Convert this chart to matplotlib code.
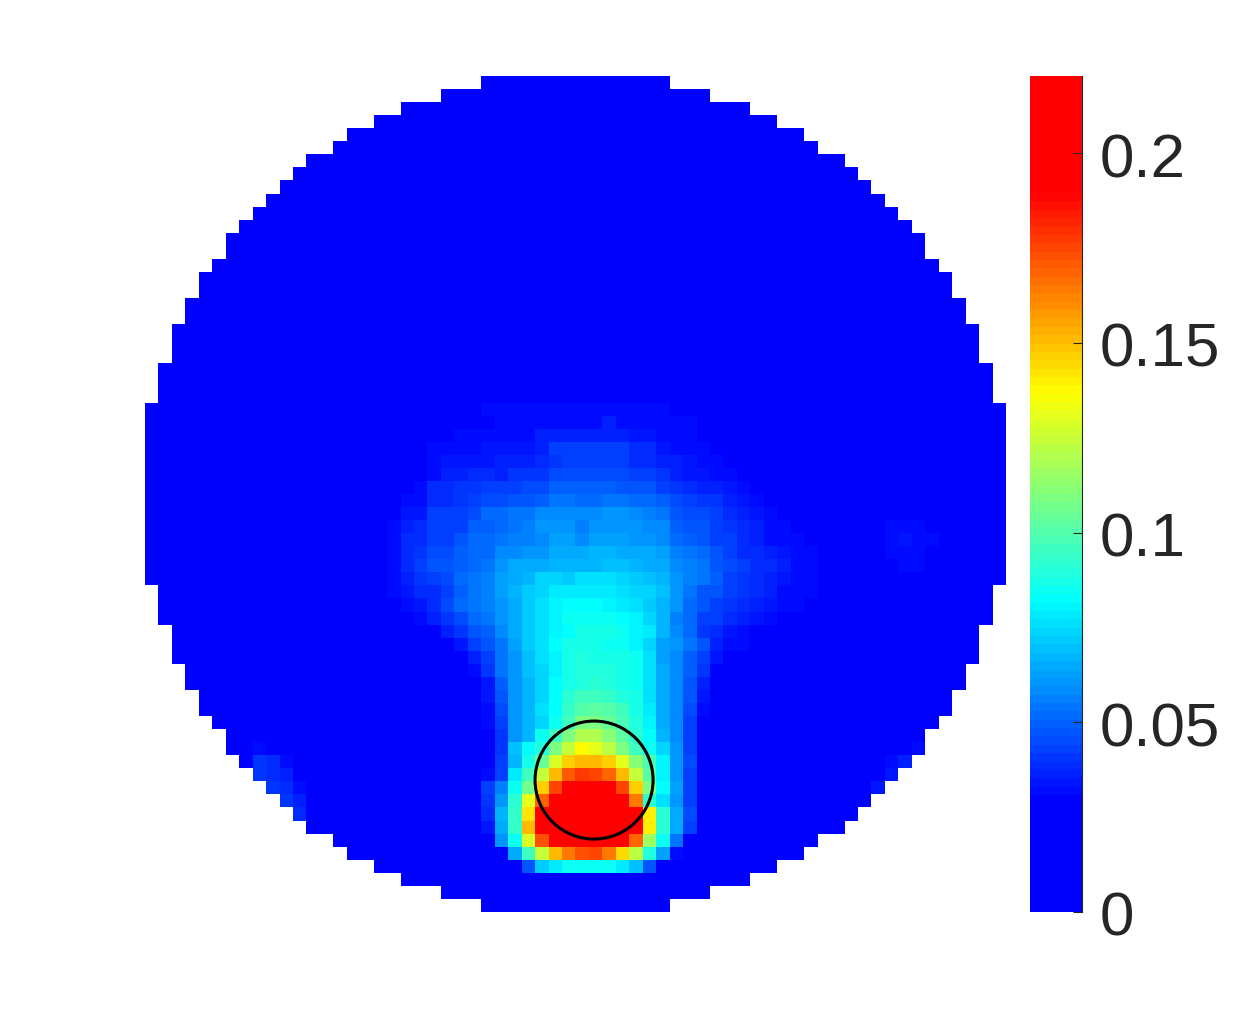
import numpy as np
import matplotlib
matplotlib.use("Agg")
import matplotlib.pyplot as plt
from matplotlib.colors import LinearSegmentedColormap
from matplotlib.patches import Ellipse
from matplotlib.transforms import ScaledTranslation

plt.rcParams['font.family'] = ['Liberation Sans', 'DejaVu Sans']

# first column inside the disc, for the top rows (bottom rows are the mirror)
disc_start = [25, 22, 19, 17, 15, 14, 12, 11, 10, 9, 8, 7, 6, 6, 5, 4, 4, 3, 3, 2, 2, 2, 1, 1, 1]

# values, in 1/1000: (row, first column, values)
plume = [
    (25, 25, [31,31,31,31,33,33,33,33,33,33,33,33,31,31,30]),
    (26, 23, [30,30,30,31,31,33,33,33,33,33,33,36,33,33,33,33,31,31,30]),
    (27, 21, [30,30,31,31,31,32,32,33,37,37,37,37,37,37,37,34,34,32,32,32,30,29]),
    (28, 21, [31,31,32,32,34,34,35,35,37,42,42,42,42,42,42,39,39,35,33,32,31,30,29]),
    (29, 20, [29,31,35,35,35,34,36,37,37,39,40,44,44,44,44,42,38,38,36,36,34,33,31,30,28]),
    (30, 20, [30,33,36,36,38,38,37,41,41,40,46,46,46,46,46,46,43,43,40,37,35,34,33,31,29]),
    (31, 19, [29,32,38,38,40,40,42,42,44,45,45,49,49,49,49,49,48,48,48,44,41,39,37,36,34,33,30]),
    (32, 18, [29,32,33,39,39,41,42,45,45,48,48,50,53,53,51,51,54,54,52,52,49,45,43,41,40,37,35,32,30]),
    (33, 18, [30,34,35,42,42,44,45,52,52,54,55,58,58,59,59,59,61,61,58,56,53,47,46,45,42,39,37,34,32,30]),
    (33, 56, [30,30]),
    (34, 18, [31,37,38,44,44,44,50,50,52,54,56,61,61,61,57,61,61,61,61,59,58,50,48,47,43,41,38,37,33,32,30]),
    (34, 54, [29,31,33,33,30]),
    (35, 17, [29,33,38,39,42,44,48,51,51,53,57,57,58,62,62,58,63,63,62,60,60,58,52,50,47,44,42,38,37,33,32,31,30,30]),
    (35, 53, [29,30,31,34,33,31]),
    (36, 17, [29,33,38,40,46,46,50,51,52,59,59,60,60,64,64,64,67,67,66,64,64,63,56,53,51,48,44,39,38,37,35,32,31,29,29,29,30,30,31,33,32,30]),
    (37, 17, [29,33,39,42,48,48,50,52,55,60,66,66,64,68,68,68,68,69,69,67,65,65,58,56,53,48,46,42,39,38,36,33,31,30,30,30,30,30,30,32,31]),
    (38, 18, [33,37,40,43,46,51,54,56,62,66,68,73,73,72,75,75,75,74,72,69,68,60,56,53,50,43,41,38,37,34,33,31,29,29,29,29,29,29]),
    (39, 18, [31,34,38,39,44,50,54,56,62,67,71,73,78,78,78,78,78,76,73,73,70,60,54,48,47,42,41,38,36,33,33,31,30]),
    (40, 19, [33,35,39,46,52,55,57,60,65,71,75,80,82,82,82,81,79,77,72,68,60,52,47,42,40,38,36,34,33,32]),
    (41, 20, [32,36,40,46,52,55,60,65,72,76,81,84,84,84,84,82,80,74,68,56,52,43,42,39,37,34,32,30]),
    (42, 21, [30,36,41,47,50,58,65,72,76,81,83,86,86,86,85,81,78,68,58,52,40,38,34,33,30]),
    (43, 23, [35,42,48,55,63,71,76,82,86,86,86,85,84,80,74,63,61,53,48,36,32,31]),
    (44, 24, [37,42,53,61,69,75,80,87,90,88,88,86,84,76,63,58,50,42,34,29]),
    (45, 24, [32,40,53,61,69,74,80,86,89,90,90,88,84,76,65,58,50,40,30]),
    (46, 25, [34,50,61,67,74,82,87,90,92,90,88,84,76,65,58,48,37]),
    (47, 25, [34,48,61,67,74,83,92,96,96,94,90,86,76,66,58,48,34]),
    (48, 25, [32,45,61,67,77,82,93,101,102,100,95,88,78,65,58,45,32]),
    (49, 25, [31,42,61,67,74,85,96,108,110,105,97,90,80,65,58,44,30]),
    (50, 25, [30,40,61,67,84,95,110,120,120,112,103,92,82,68,58,44,29]),
    (51, 25, [30,40,69,82,90,108,125,138,132,122,108,96,84,74,60,44,29]),
    (52, 25, [30,42,68,86,105,128,146,150,150,146,132,112,98,80,61,45,30]),
    (53, 25, [32,44,78,95,125,150,170,178,175,168,150,125,100,80,61,44,30]),
    (54, 25, [44,56,84,106,146,175,200,200,200,200,175,146,108,82,62,42,30]),
    (55, 25, [40,60,92,130,168,200,200,200,200,200,200,165,92,76,60,44,30]),
    (56, 25, [38,68,94,142,200,200,200,200,200,200,200,200,140,92,66,46,30]),
    (57, 25, [34,66,94,150,200,200,200,200,200,200,200,200,140,92,66,44,30]),
    (58, 25, [29,60,84,128,172,200,200,200,200,200,200,168,116,84,54,30]),
    (59, 26, [30,66,95,125,150,165,172,176,165,145,122,90,62,32]),
    (60, 28, [48,72,78,84,85,85,84,78,70,48,28]),
    # faint patches at the lower left and lower right rim
    (51, 7, [29,33,30]),
    (52, 7, [30,40,38,32]),
    (53, 8, [40,39,36]),
    (54, 9, [40,38,33]),
    (55, 10, [40,36]),
    (56, 11, [38]),
    (57, 12, [30]),
    (51, 56, [29,31]),
    (52, 55, [31,36]),
    (53, 54, [30,35]),
    (54, 54, [35]),
    (55, 53, [30]),
]

cbar_ticks = [0, 0.05, 0.1, 0.15, 0.2]
cbar_labels = ['0', '0.05', '0.1', '0.15', '0.2']
vmax = 0.2203

# blue floor, then blue-cyan-yellow-red, flat red at the top
cmap_values = [0, 0.029, 0.082, 0.137, 0.19, vmax]
cmap_colors = ['#0000ff', '#0000ff', '#00ffff', '#ffff00', '#ff0000', '#ff0000']

n = 64
data = np.zeros((n, n))
for row, col, vals in plume:
    data[row, col:col + len(vals)] = np.array(vals) / 1000.0

mask = np.zeros((n, n), dtype=bool)
for i, s in enumerate(disc_start):
    mask[i, :s] = True
    mask[i, n - s:] = True
    mask[n - 1 - i, :s] = True
    mask[n - 1 - i, n - s:] = True
data = np.ma.array(data, mask=mask)

cmap = LinearSegmentedColormap.from_list('plume', [(v / vmax, c) for v, c in zip(cmap_values, cmap_colors)], N=100)
cmap.set_bad('white')

W, H = 1242, 1025
fig = plt.figure(figsize=(W / 100, H / 100), dpi=100, facecolor='white')

ax = fig.add_axes([145 / W, 1 - 912 / H, 861 / W, 836 / H])
im = ax.imshow(data, cmap=cmap, vmin=0, vmax=vmax, aspect='auto', interpolation='nearest',
               extent=[0, n, n, 0])
ax.axis('off')

# black ring over the hot spot
ax.add_patch(Ellipse((33.38, 53.9), 118 / 13.45, 118 / 13.06, fill=False, edgecolor='black', linewidth=2.2))

cax = fig.add_axes([1030 / W, 1 - 912 / H, 52 / W, 836 / H])
cb = fig.colorbar(im, cax=cax)
cb.outline.set_visible(False)
cb.set_ticks(cbar_ticks)
cb.set_ticklabels(cbar_labels)
cax.spines['right'].set_visible(True)
cax.spines['right'].set_color('#262626')
cax.spines['right'].set_linewidth(0.8)
cax.tick_params(axis='y', which='both', direction='in', length=6.5, width=0.8, color='#262626',
                labelsize=44.7, labelcolor='#262626', pad=13)
cax.minorticks_off()
offset = ScaledTranslation(0, -2 / 100, fig.dpi_scale_trans)
for lab in cax.get_yticklabels():
    lab.set_transform(lab.get_transform() + offset)

fig.savefig('out.png', dpi=100)
